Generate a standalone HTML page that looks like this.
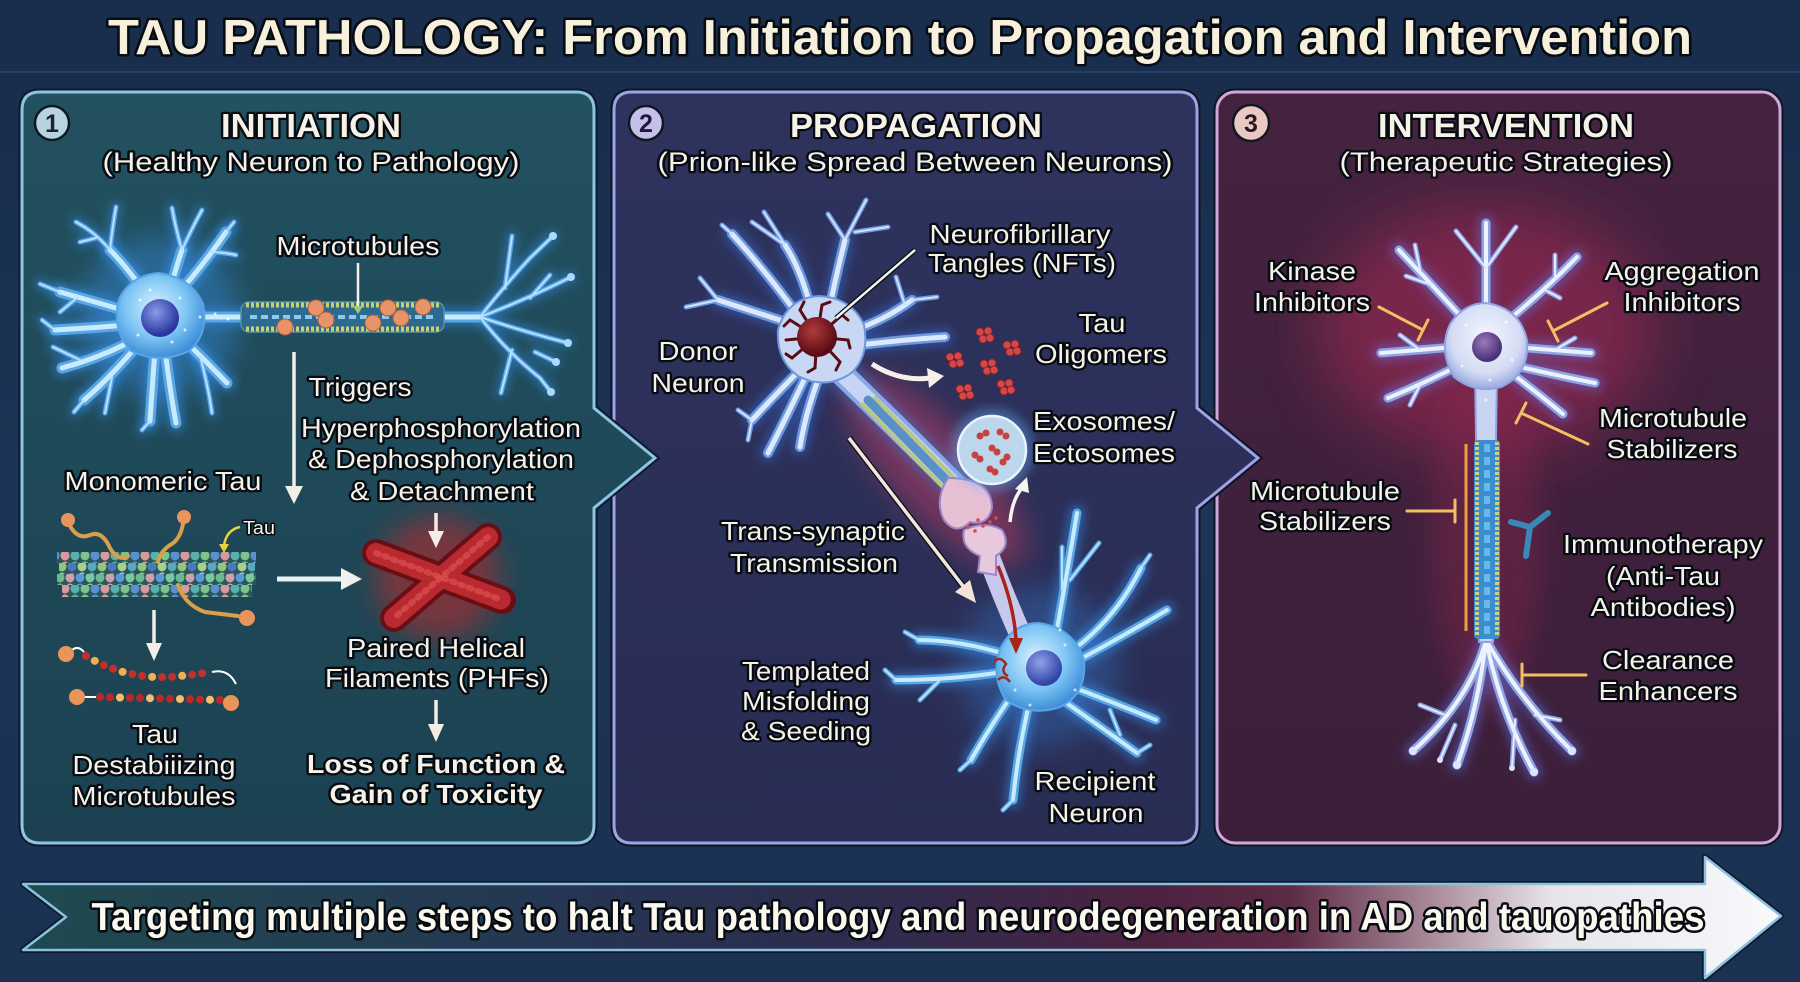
<!DOCTYPE html>
<html><head><meta charset="utf-8"><style>
html,body{margin:0;padding:0;background:#1b3354;overflow:hidden}
svg{display:block}
.L{font-family:"Liberation Sans",Arial,sans-serif;font-size:26px;fill:#f6f2e8;stroke:#070b12;stroke-width:4.5px;paint-order:stroke;stroke-linejoin:round;text-anchor:middle}
.B{font-weight:bold}
</style></head><body>
<svg width="1800" height="982" viewBox="0 0 1800 982" xmlns="http://www.w3.org/2000/svg">
<defs>
<linearGradient id="bg" x1="0" y1="0" x2="0" y2="1"><stop offset="0" stop-color="#182c4a"/><stop offset=".5" stop-color="#1c3456"/><stop offset="1" stop-color="#1a3152"/></linearGradient>
<linearGradient id="p1" x1="0" y1="0" x2="0" y2="1"><stop offset="0" stop-color="#22515f"/><stop offset="1" stop-color="#1c4252"/></linearGradient>
<linearGradient id="p2" x1="0" y1="0" x2="0" y2="1"><stop offset="0" stop-color="#2e335e"/><stop offset="1" stop-color="#292d54"/></linearGradient>
<linearGradient id="p3" x1="0" y1="0" x2="0" y2="1"><stop offset="0" stop-color="#45233f"/><stop offset="1" stop-color="#3b1f3a"/></linearGradient>
<linearGradient id="ban" x1="0" y1="0" x2="1" y2="0">
<stop offset="0" stop-color="#1f4a50"/><stop offset=".33" stop-color="#263452"/><stop offset=".5" stop-color="#302a4c"/><stop offset=".64" stop-color="#4c2240"/><stop offset=".72" stop-color="#5c2a44"/><stop offset=".8" stop-color="#a88898"/><stop offset=".87" stop-color="#e8e4ea"/><stop offset="1" stop-color="#f8fafc"/></linearGradient>
<radialGradient id="s1" cx=".45" cy=".4" r=".6"><stop offset="0" stop-color="#d8f2ff"/><stop offset=".6" stop-color="#7cc4f4"/><stop offset="1" stop-color="#3f8ed8"/></radialGradient>
<radialGradient id="s4" cx=".5" cy=".4" r=".6"><stop offset="0" stop-color="#f4f6ff"/><stop offset=".7" stop-color="#d4dcf4"/><stop offset="1" stop-color="#9aaae0"/></radialGradient>
<radialGradient id="nuc" cx=".4" cy=".35" r=".6"><stop offset="0" stop-color="#8a9ae8"/><stop offset="1" stop-color="#2a36a0"/></radialGradient>
<radialGradient id="nuc4" cx=".4" cy=".35" r=".6"><stop offset="0" stop-color="#9a7ab8"/><stop offset="1" stop-color="#4a3278"/></radialGradient>
<radialGradient id="nft" cx=".4" cy=".35" r=".6"><stop offset="0" stop-color="#b03a3a"/><stop offset="1" stop-color="#5a0c14"/></radialGradient>
<filter id="b6" x="-50%" y="-50%" width="200%" height="200%"><feGaussianBlur stdDeviation="5"/></filter>
<filter id="b15" x="-50%" y="-50%" width="200%" height="200%"><feGaussianBlur stdDeviation="14"/></filter>
<filter id="b30" x="-50%" y="-50%" width="200%" height="200%"><feGaussianBlur stdDeviation="30"/></filter>
<pattern id="mA" width="40" height="11" patternUnits="userSpaceOnUse"><rect width="40" height="11" fill="#2c5658"/><ellipse cx="5" cy="5.5" rx="4.5" ry="5" fill="#7cc48a"/><ellipse cx="15" cy="5.5" rx="4.5" ry="5" fill="#5a8fd0"/><ellipse cx="25" cy="5.5" rx="4.5" ry="5" fill="#d89aa0"/><ellipse cx="35" cy="5.5" rx="4.5" ry="5" fill="#58b0a8"/></pattern>
<pattern id="mB" width="40" height="11" patternUnits="userSpaceOnUse" patternTransform="translate(7,0)"><rect width="40" height="11" fill="#2c5658"/><ellipse cx="5" cy="5.5" rx="4.5" ry="5" fill="#58a8c0"/><ellipse cx="15" cy="5.5" rx="4.5" ry="5" fill="#8cc880"/><ellipse cx="25" cy="5.5" rx="4.5" ry="5" fill="#4a78c0"/><ellipse cx="35" cy="5.5" rx="4.5" ry="5" fill="#a8d090"/></pattern>
<pattern id="mC" width="40" height="11" patternUnits="userSpaceOnUse" patternTransform="translate(15,0)"><rect width="40" height="11" fill="#2c5658"/><ellipse cx="5" cy="5.5" rx="4.5" ry="5" fill="#6ab890"/><ellipse cx="15" cy="5.5" rx="4.5" ry="5" fill="#c8a0b0"/><ellipse cx="25" cy="5.5" rx="4.5" ry="5" fill="#5a98d8"/><ellipse cx="35" cy="5.5" rx="4.5" ry="5" fill="#78c8a0"/></pattern>

<g id="n1t"><path d="M150,300 Q128,268 110,250"/><path d="M168,296 Q176,268 182,250"/><path d="M172,300 Q200,270 226,232"/><path d="M130,312 Q95,302 60,292"/><path d="M128,325 Q92,328 55,330"/><path d="M138,338 Q100,358 62,368"/><path d="M140,342 Q110,378 84,400"/><path d="M155,350 Q152,390 150,421"/><path d="M165,350 Q170,390 176,423"/><path d="M182,338 Q205,360 227,383"/><path d="M185,317 L250,317"/><path d="M440,317 L480,317"/></g>
<g id="n1b"><path d="M110,250 Q95,232 76,222"/><path d="M110,250 Q112,230 116,207"/><path d="M96,238 L80,242"/><path d="M182,250 Q176,230 172,208"/><path d="M182,250 Q192,228 202,210"/><path d="M210,252 Q222,252 236,255"/><path d="M226,232 L234,222"/><path d="M60,292 L40,284"/><path d="M78,297 L60,312"/><path d="M55,330 L42,320"/><path d="M80,360 L53,347"/><path d="M112,377 L105,413"/><path d="M84,400 L74,412"/><path d="M200,356 Q208,385 212,413"/><path d="M150,421 L142,430"/><path d="M480,317 Q505,285 530,258 L553,236"/><path d="M505,288 L512,236"/><path d="M480,317 Q525,300 571,277"/><path d="M530,298 L550,275"/><path d="M480,317 Q525,332 568,343"/><path d="M480,317 Q505,350 540,378 L551,392"/><path d="M512,350 L501,393"/><path d="M535,352 L556,362"/></g>

<g id="n2t"><path d="M810,305 Q800,268 785,245"/><path d="M830,305 Q838,268 845,240"/><path d="M795,325 Q755,312 718,300"/><path d="M800,318 Q765,270 732,234"/><path d="M855,330 Q888,318 912,300"/><path d="M860,345 Q900,340 945,337"/><path d="M800,370 Q775,395 752,420"/><path d="M805,378 Q785,420 768,453"/><path d="M818,380 Q805,415 800,447"/></g>
<g id="n2b"><path d="M785,245 L764,212"/><path d="M785,245 L752,222"/><path d="M845,240 L828,214"/><path d="M845,240 L866,200"/><path d="M855,232 L888,227"/><path d="M718,300 L686,307"/><path d="M718,300 L700,278"/><path d="M912,300 L937,297"/><path d="M905,305 L896,277"/><path d="M752,420 L738,410"/><path d="M752,420 L748,440"/><path d="M732,234 L722,225"/></g>

<g id="n3t"><path d="M1055,640 Q1065,585 1077,513"/><path d="M1070,652 Q1115,620 1141,568"/><path d="M1075,662 Q1125,635 1167,610"/><path d="M1075,688 Q1120,705 1156,720"/><path d="M1065,702 Q1105,730 1137,753"/><path d="M1030,700 Q1018,750 1013,800"/><path d="M1012,695 Q988,730 971,760"/><path d="M1003,672 Q950,680 896,680"/><path d="M1008,655 Q960,640 919,640"/></g>
<g id="n3b"><path d="M1070,580 L1099,543"/><path d="M1062,590 L1062,547"/><path d="M1141,568 L1150,555"/><path d="M1137,753 L1150,745"/><path d="M1013,800 L1003,810"/><path d="M971,760 L960,770"/><path d="M896,680 L885,670"/><path d="M940,680 L920,700"/><path d="M919,640 L905,632"/><path d="M1110,710 L1120,735"/></g>

<g id="n4t"><path d="M1486,312 L1486,223"/><path d="M1466,322 Q1432,285 1399,250"/><path d="M1506,322 Q1545,290 1577,257"/><path d="M1455,347 Q1420,350 1381,353"/><path d="M1460,365 Q1420,385 1388,398"/><path d="M1515,347 Q1555,350 1591,353"/><path d="M1512,365 Q1555,375 1595,383"/><path d="M1510,372 Q1540,395 1563,414"/><path d="M1486,640 Q1470,700 1413,751"/><path d="M1486,640 Q1478,710 1457,765"/><path d="M1486,640 Q1500,710 1534,772"/><path d="M1486,640 Q1520,700 1572,751"/></g>
<g id="n4b"><path d="M1486,268 L1456,231"/><path d="M1486,268 L1516,227"/><path d="M1432,285 L1406,276"/><path d="M1420,270 L1415,245"/><path d="M1545,290 L1560,298"/><path d="M1555,280 L1555,255"/><path d="M1420,350 L1400,335"/><path d="M1555,350 L1575,338"/><path d="M1420,385 L1410,405"/><path d="M1445,715 L1420,705"/><path d="M1455,725 L1440,760"/><path d="M1515,720 L1512,768"/><path d="M1535,715 L1560,720"/></g>
</defs>

<!-- background -->
<rect width="1800" height="982" fill="url(#bg)"/>
<rect width="1800" height="72" fill="#192d4c"/>
<line x1="0" y1="72" x2="1800" y2="72" stroke="#24406a" stroke-width="2"/>

<!-- title -->
<text class="L B" x="900" y="54" style="font-size:49px;fill:#f7f0dc;stroke-width:5px" textLength="1584" lengthAdjust="spacingAndGlyphs">TAU PATHOLOGY: From Initiation to Propagation and Intervention</text>

<!-- panel 3 -->
<rect x="1217" y="92" width="563" height="751" rx="18" fill="url(#p3)" stroke="#0e1426" stroke-width="7"/>
<rect x="1217" y="92" width="563" height="751" rx="18" fill="url(#p3)" stroke="#cfa8d8" stroke-width="3"/>
<!-- panel 2 -->
<path d="M632,92 H1179 Q1197,92 1197,110 V408 L1258,458 L1197,508 V825 Q1197,843 1179,843 H632 Q614,843 614,825 V110 Q614,92 632,92 Z" fill="url(#p2)" stroke="#0e1426" stroke-width="7"/>
<path d="M632,92 H1179 Q1197,92 1197,110 V408 L1258,458 L1197,508 V825 Q1197,843 1179,843 H632 Q614,843 614,825 V110 Q614,92 632,92 Z" fill="url(#p2)" stroke="#9ea2e6" stroke-width="3"/>
<!-- panel 1 -->
<path d="M40,92 H576 Q594,92 594,110 V408 L655,458 L594,508 V825 Q594,843 576,843 H40 Q22,843 22,825 V110 Q22,92 40,92 Z" fill="url(#p1)" stroke="#0e1a2a" stroke-width="7"/>
<path d="M40,92 H576 Q594,92 594,110 V408 L655,458 L594,508 V825 Q594,843 576,843 H40 Q22,843 22,825 V110 Q22,92 40,92 Z" fill="url(#p1)" stroke="#8ec4e4" stroke-width="3"/>

<!-- number circles -->
<circle cx="52" cy="123" r="17" fill="#b8d4e0" stroke="#101820" stroke-width="2.5"/>
<text x="52" y="132" text-anchor="middle" style="font-family:'Liberation Sans',sans-serif;font-weight:bold;font-size:25px;fill:#1a2530">1</text>
<circle cx="646" cy="123" r="17" fill="#c4c0ea" stroke="#101820" stroke-width="2.5"/>
<text x="646" y="132" text-anchor="middle" style="font-family:'Liberation Sans',sans-serif;font-weight:bold;font-size:25px;fill:#1e1a38">2</text>
<circle cx="1251" cy="123" r="18" fill="#ecc8c4" stroke="#101820" stroke-width="2.5"/>
<text x="1251" y="132" text-anchor="middle" style="font-family:'Liberation Sans',sans-serif;font-weight:bold;font-size:25px;fill:#2a1a20">3</text>

<!-- headers -->
<text class="L B" x="311" y="137" style="font-size:33px" textLength="180" lengthAdjust="spacingAndGlyphs">INITIATION</text>
<text class="L" x="311" y="171" style="font-size:27px" textLength="417" lengthAdjust="spacingAndGlyphs">(Healthy Neuron to Pathology)</text>
<text class="L B" x="916" y="137" style="font-size:33px" textLength="252" lengthAdjust="spacingAndGlyphs">PROPAGATION</text>
<text class="L" x="915" y="171" style="font-size:27px" textLength="515" lengthAdjust="spacingAndGlyphs">(Prion-like Spread Between Neurons)</text>
<text class="L B" x="1506" y="137" style="font-size:33px" textLength="256" lengthAdjust="spacingAndGlyphs">INTERVENTION</text>
<text class="L" x="1506" y="171" style="font-size:27px" textLength="333" lengthAdjust="spacingAndGlyphs">(Therapeutic Strategies)</text>

<!-- ===== PANEL 1 ===== -->
<circle cx="159" cy="317" r="80" fill="#3a9aff" opacity=".35" filter="url(#b15)"/>
<g fill="none" stroke-linecap="round" stroke-linejoin="round">
<use href="#n1t" stroke="#3a98ff" stroke-width="18" opacity=".45" filter="url(#b6)"/>
<use href="#n1b" stroke="#3a98ff" stroke-width="10" opacity=".45" filter="url(#b6)"/>
<use href="#n1t" stroke="#5aa6e4" stroke-width="11"/>
<use href="#n1b" stroke="#5aa6e4" stroke-width="5"/>
<use href="#n1t" stroke="#c8ecff" stroke-width="5"/>
<use href="#n1b" stroke="#b8e2ff" stroke-width="2"/>
</g>
<g fill="#a8dcff"><circle cx="551" cy="392" r="4"/><circle cx="556" cy="362" r="4"/><circle cx="568" cy="343" r="4"/><circle cx="571" cy="277" r="4"/><circle cx="553" cy="236" r="4"/></g>
<path d="M159,273 Q192,278 203,304 Q209,334 189,351 Q160,365 131,351 Q111,330 119,299 Q131,275 159,273Z" fill="url(#s1)" stroke="#5aa6e4" stroke-width="2"/>
<circle cx="160" cy="318" r="19" fill="url(#nuc)"/>
<g fill="#ffffff" opacity=".75"><circle cx="140" cy="300" r="1.5"/><circle cx="180" cy="298" r="1.5"/><circle cx="185" cy="330" r="1.5"/><circle cx="138" cy="335" r="1.5"/><circle cx="172" cy="342" r="1.5"/><circle cx="150" cy="290" r="1.5"/><circle cx="200" cy="317" r="1.5"/><circle cx="215" cy="314" r="1.5"/><circle cx="228" cy="319" r="1.5"/></g>
<!-- microtubule tube -->
<rect x="241" y="302" width="203" height="30" rx="8" fill="#2c6a90" stroke="#5a90a8" stroke-width="1.5"/>
<line x1="246" y1="305" x2="440" y2="305" stroke="#c8d070" stroke-width="5" stroke-dasharray="3 2"/>
<line x1="246" y1="329" x2="440" y2="329" stroke="#c8d070" stroke-width="5" stroke-dasharray="3 2"/>
<line x1="250" y1="317" x2="436" y2="317" stroke="#8cc8f0" stroke-width="4" stroke-dasharray="7 4"/>
<g fill="#e8946a" stroke="#b0603c" stroke-width="1"><circle cx="316" cy="308" r="8"/><circle cx="326" cy="320" r="8"/><circle cx="285" cy="327" r="8"/><circle cx="373" cy="323" r="8"/><circle cx="388" cy="308" r="8"/><circle cx="401" cy="318" r="8"/><circle cx="423" cy="307" r="8"/></g>
<line x1="358" y1="263" x2="358" y2="308" stroke="#f2f2ea" stroke-width="2.5"/>
<polygon points="353,306 363,306 358,314" fill="#9ad070"/>
<text class="L" x="358" y="255" textLength="163" lengthAdjust="spacingAndGlyphs">Microtubules</text>

<!-- triggers arrow -->
<line x1="294" y1="352" x2="294" y2="488" stroke="#f2eee4" stroke-width="3.5"/>
<polygon points="285,486 303,486 294,504" fill="#f2eee4"/>
<text class="L" x="360" y="396" textLength="103" lengthAdjust="spacingAndGlyphs">Triggers</text>
<text class="L" x="441" y="437" textLength="280" lengthAdjust="spacingAndGlyphs">Hyperphosphorylation</text>
<text class="L" x="441" y="468" textLength="266" lengthAdjust="spacingAndGlyphs">&amp; Dephosphorylation</text>
<text class="L" x="442" y="500" textLength="184" lengthAdjust="spacingAndGlyphs">&amp; Detachment</text>
<text class="L" x="163" y="490" textLength="197" lengthAdjust="spacingAndGlyphs">Monomeric Tau</text>

<!-- colored microtubule -->
<rect x="57" y="552" width="199" height="11" fill="url(#mA)"/>
<rect x="59" y="563" width="196" height="11" fill="url(#mB)"/>
<rect x="57" y="574" width="199" height="11" fill="url(#mC)"/>
<rect x="62" y="585" width="190" height="12" fill="url(#mA)"/>
<g fill="none" stroke="#d8a048" stroke-width="4" stroke-linecap="round">
<path d="M70,526 Q78,540 90,535 Q102,530 110,548 Q118,562 128,556"/>
<path d="M183,524 Q180,540 170,545 Q160,552 158,562"/>
<path d="M178,585 Q185,605 205,612 L238,616"/>
</g>
<g fill="#e8945a"><circle cx="68" cy="520" r="7"/><circle cx="184" cy="517" r="7"/><circle cx="247" cy="618" r="8"/></g>
<path d="M240,527 Q226,530 224,546" fill="none" stroke="#e8d040" stroke-width="2.5"/>
<polygon points="219,544 229,544 224,553" fill="#e8d040"/>
<text class="L" x="259" y="534" style="font-size:18px;stroke-width:3px" textLength="32" lengthAdjust="spacingAndGlyphs">Tau</text>

<!-- horizontal arrow -->
<line x1="277" y1="579" x2="344" y2="579" stroke="#e8f0f4" stroke-width="5"/>
<polygon points="341,568 341,590 362,579" fill="#f2f2ee"/>

<!-- PHF -->
<circle cx="438" cy="578" r="62" fill="#d02828" opacity=".5" filter="url(#b15)"/>
<g stroke-linecap="round" fill="none">
<path d="M376,553 L502,600" stroke="#6a0e16" stroke-width="28"/>
<path d="M488,537 L394,618" stroke="#6a0e16" stroke-width="28"/>
<path d="M376,553 L502,600" stroke="#b82a30" stroke-width="20" stroke-dasharray="5 3"/>
<path d="M488,537 L394,618" stroke="#b82a30" stroke-width="20" stroke-dasharray="5 3"/>
<path d="M376,553 L502,600" stroke="#e05050" stroke-width="6" stroke-dasharray="3 6" opacity=".7"/>
<path d="M488,537 L394,618" stroke="#e05050" stroke-width="6" stroke-dasharray="3 6" opacity=".7"/>
</g>
<line x1="436" y1="513" x2="436" y2="533" stroke="#f2eee4" stroke-width="3.5"/>
<polygon points="428,531 444,531 436,548" fill="#f2eee4"/>
<text class="L" x="436" y="657" textLength="178" lengthAdjust="spacingAndGlyphs">Paired Helical</text>
<text class="L" x="437" y="687" textLength="224" lengthAdjust="spacingAndGlyphs">Filaments (PHFs)</text>
<line x1="436" y1="700" x2="436" y2="726" stroke="#f2eee4" stroke-width="3.5"/>
<polygon points="428,724 444,724 436,742" fill="#f2eee4"/>
<text class="L B" x="436" y="773" textLength="258" lengthAdjust="spacingAndGlyphs">Loss of Function &amp;</text>
<text class="L B" x="436" y="803" textLength="213" lengthAdjust="spacingAndGlyphs">Gain of Toxicity</text>

<!-- destabilizing -->
<line x1="154" y1="610" x2="154" y2="645" stroke="#f2eee4" stroke-width="3.5"/>
<polygon points="146,643 162,643 154,661" fill="#f2eee4"/>
<path d="M72,650 Q78,645 84,652" fill="none" stroke="#fff" stroke-width="2"/>
<path d="M212,672 Q228,668 236,684" fill="none" stroke="#fff" stroke-width="2"/>
<line x1="85" y1="697" x2="96" y2="697" stroke="#fff" stroke-width="2"/>
<g fill="none" stroke-linecap="round" stroke-width="8">
<path d="M86,656 Q130,682 180,676 Q200,674 210,672" stroke="#c0302c" stroke-dasharray="0 10"/>
<path d="M86,656 Q130,682 180,676 Q200,674 210,672" stroke="#f0b050" stroke-dasharray="0 30" stroke-dashoffset="-10"/>
<path d="M100,697 L222,700" stroke="#b82a2a" stroke-dasharray="0 10"/>
<path d="M100,697 L222,700" stroke="#f0c070" stroke-dasharray="0 30" stroke-dashoffset="-20"/>
</g>
<g fill="#e8945a"><circle cx="66" cy="654" r="8"/><circle cx="77" cy="697" r="8"/><circle cx="231" cy="703" r="8"/></g>
<text class="L" x="155" y="743" textLength="46" lengthAdjust="spacingAndGlyphs">Tau</text>
<text class="L" x="154" y="774" textLength="163" lengthAdjust="spacingAndGlyphs">Destabiiizing</text>
<text class="L" x="154" y="805" textLength="163" lengthAdjust="spacingAndGlyphs">Microtubules</text>

<!-- ===== PANEL 2 ===== -->
<ellipse cx="935" cy="470" rx="125" ry="45" transform="rotate(47 935 470)" fill="#c03a60" opacity=".5" filter="url(#b15)"/>
<circle cx="1039" cy="667" r="80" fill="#3a9aff" opacity=".25" filter="url(#b15)"/>
<!-- donor axon -->
<g stroke-linecap="round" fill="none">
<path d="M840,372 Q900,430 972,502" stroke="#3a80e0" stroke-width="34" opacity=".4" filter="url(#b6)"/>
<path d="M840,372 Q900,430 972,502" stroke="#8aa8e8" stroke-width="24"/>
<path d="M840,372 Q900,430 972,502" stroke="#c8d4f4" stroke-width="16"/>
<path d="M868,400 L952,486" stroke="#5a90c8" stroke-width="9"/>
<path d="M875,398 L958,482" stroke="#b8c880" stroke-width="4" stroke-dasharray="3 2"/>
<path d="M862,404 L946,490" stroke="#b8c880" stroke-width="4" stroke-dasharray="3 2"/>
</g>
<!-- synapse -->
<path d="M948,478 Q992,478 992,508 Q988,526 970,522 Q956,536 944,520 Q934,500 948,478Z" fill="#e8c0d4" stroke="#9a88c8" stroke-width="2"/>
<path d="M990,560 Q1005,600 1025,645" stroke="#c8c8ec" stroke-width="22" fill="none" stroke-linecap="round"/>
<path d="M964,530 Q985,520 1002,530 Q1012,546 996,556 L996,575 L978,572 L980,556 Q960,548 964,530Z" fill="#e8c8dc" stroke="#9a88c8" stroke-width="2"/>
<g fill="#e04848"><circle cx="968" cy="527" r="1.8"/><circle cx="975" cy="531" r="1.8"/><circle cx="983" cy="526" r="1.8"/><circle cx="990" cy="522" r="1.8"/><circle cx="978" cy="520" r="1.8"/><circle cx="996" cy="518" r="1.8"/></g>
<!-- donor neuron -->
<g fill="none" stroke-linecap="round" stroke-linejoin="round">
<use href="#n2t" stroke="#3a80ff" stroke-width="16" opacity=".4" filter="url(#b6)"/>
<use href="#n2t" stroke="#7098dc" stroke-width="10"/>
<use href="#n2b" stroke="#7098dc" stroke-width="5"/>
<use href="#n2t" stroke="#dceaff" stroke-width="5"/>
<use href="#n2b" stroke="#d0e2ff" stroke-width="2"/>
<use href="#n3t" stroke="#3a98ff" stroke-width="16" opacity=".45" filter="url(#b6)"/>
<use href="#n3t" stroke="#5aa6e4" stroke-width="9"/>
<use href="#n3b" stroke="#5aa6e4" stroke-width="5"/>
<use href="#n3t" stroke="#c8ecff" stroke-width="4"/>
<use href="#n3b" stroke="#b8e2ff" stroke-width="2"/>
</g>
<path d="M819,296 Q852,298 864,325 Q870,357 850,374 Q825,390 798,376 Q776,360 778,330 Q787,298 819,296Z" fill="#c8d8f4" stroke="#7098dc" stroke-width="2"/>
<g stroke="#5a0c14" stroke-width="3" fill="none" stroke-linecap="round">
<path d="M817,337 L790,320 L784,326"/><path d="M817,337 L800,310 L804,302"/><path d="M817,337 L822,305 L830,302"/><path d="M817,337 L842,315 L848,320"/><path d="M817,337 L848,340 L850,348"/><path d="M817,337 L840,362 L836,370"/><path d="M817,337 L815,368 L808,372"/><path d="M817,337 L792,358 L786,354"/><path d="M817,337 L786,340"/>
</g>
<circle cx="817" cy="337" r="20" fill="url(#nft)"/>
<line x1="915" y1="250" x2="836" y2="318" stroke="#080c14" stroke-width="5"/>
<line x1="915" y1="250" x2="836" y2="318" stroke="#f4f4f0" stroke-width="2.5"/>
<!-- recipient soma -->
<path d="M1039,623 Q1074,628 1084,660 Q1087,694 1060,707 Q1030,717 1006,700 Q990,676 1001,647 Q1014,623 1039,623Z" fill="url(#s1)" stroke="#5aa6e4" stroke-width="2"/>
<circle cx="1044" cy="668" r="18" fill="url(#nuc)" opacity=".9"/>
<g fill="#ffffff" opacity=".7"><circle cx="1020" cy="640" r="1.5"/><circle cx="1065" cy="645" r="1.5"/><circle cx="1075" cy="690" r="1.5"/><circle cx="1015" cy="690" r="1.5"/><circle cx="1030" cy="705" r="1.5"/><circle cx="1060" cy="630" r="1.5"/></g>
<g stroke="#a02820" stroke-width="2.5" fill="none"><path d="M994,662 Q1000,655 1006,664 Q1000,672 1008,676"/><path d="M998,680 Q1004,674 1010,682"/></g>
<!-- oligomers -->
<g fill="#d24848" stroke="#8a1c24" stroke-width=".8">
<circle cx="980" cy="332" r="4"/><circle cx="988" cy="331" r="4"/><circle cx="983" cy="339" r="4"/><circle cx="990" cy="338" r="4"/>
<circle cx="1007" cy="345" r="4"/><circle cx="1015" cy="344" r="4"/><circle cx="1010" cy="352" r="4"/><circle cx="1017" cy="351" r="4"/>
<circle cx="950" cy="357" r="4"/><circle cx="958" cy="356" r="4"/><circle cx="953" cy="364" r="4"/><circle cx="960" cy="363" r="4"/>
<circle cx="984" cy="364" r="4"/><circle cx="992" cy="363" r="4"/><circle cx="987" cy="371" r="4"/><circle cx="994" cy="370" r="4"/>
<circle cx="960" cy="389" r="4"/><circle cx="968" cy="388" r="4"/><circle cx="963" cy="396" r="4"/><circle cx="970" cy="395" r="4"/>
<circle cx="1001" cy="384" r="4"/><circle cx="1009" cy="383" r="4"/><circle cx="1004" cy="391" r="4"/><circle cx="1011" cy="390" r="4"/>
</g>
<!-- exosome -->
<circle cx="992" cy="450" r="42" fill="#6ab0ff" opacity=".4" filter="url(#b6)"/>
<circle cx="992" cy="450" r="34" fill="#bcd6ec" stroke="#e8f4ff" stroke-width="2.5"/>
<g fill="#c84040"><circle cx="980" cy="436" r="3.5"/><circle cx="986" cy="433" r="3.5"/><circle cx="1000" cy="432" r="3.5"/><circle cx="1006" cy="436" r="3.5"/><circle cx="992" cy="448" r="3.5"/><circle cx="997" cy="452" r="3.5"/><circle cx="975" cy="455" r="3.5"/><circle cx="980" cy="459" r="3.5"/><circle cx="1007" cy="457" r="3.5"/><circle cx="1003" cy="462" r="3.5"/><circle cx="990" cy="469" r="3.5"/><circle cx="995" cy="472" r="3.5"/></g>
<!-- arrows panel 2 -->
<path d="M872,364 Q900,382 930,378" fill="none" stroke="#f4f0ea" stroke-width="5"/>
<polygon points="927,368 944,376 929,388" fill="#f4f0ea"/>
<line x1="849" y1="438" x2="966" y2="590" stroke="#080c14" stroke-width="6"/>
<line x1="849" y1="438" x2="966" y2="590" stroke="#f2e6dc" stroke-width="3.5"/>
<polygon points="976,603 970,580 955,592" fill="#f4e4d8"/>
<path d="M1010,522 Q1012,500 1022,488" fill="none" stroke="#f4f4f0" stroke-width="3.5"/>
<polygon points="1027,477 1015,489 1029,493" fill="#f4f4f0"/>
<path d="M998,566 Q1014,605 1016,640" fill="none" stroke="#a82418" stroke-width="3.5"/>
<polygon points="1009,638 1023,638 1016,654" fill="#a82418"/>

<text class="L" x="1020" y="243" textLength="181" lengthAdjust="spacingAndGlyphs">Neurofibrillary</text>
<text class="L" x="1022" y="272" textLength="188" lengthAdjust="spacingAndGlyphs">Tangles (NFTs)</text>
<text class="L" x="698" y="360" textLength="79" lengthAdjust="spacingAndGlyphs">Donor</text>
<text class="L" x="698" y="392" textLength="93" lengthAdjust="spacingAndGlyphs">Neuron</text>
<text class="L" x="1102" y="332" textLength="47" lengthAdjust="spacingAndGlyphs">Tau</text>
<text class="L" x="1101" y="363" textLength="132" lengthAdjust="spacingAndGlyphs">Oligomers</text>
<text class="L" x="1104" y="430" textLength="142" lengthAdjust="spacingAndGlyphs">Exosomes/</text>
<text class="L" x="1104" y="462" textLength="142" lengthAdjust="spacingAndGlyphs">Ectosomes</text>
<text class="L" x="813" y="540" textLength="184" lengthAdjust="spacingAndGlyphs">Trans-synaptic</text>
<text class="L" x="814" y="572" textLength="168" lengthAdjust="spacingAndGlyphs">Transmission</text>
<text class="L" x="806" y="680" textLength="128" lengthAdjust="spacingAndGlyphs">Templated</text>
<text class="L" x="806" y="710" textLength="128" lengthAdjust="spacingAndGlyphs">Misfolding</text>
<text class="L" x="806" y="740" textLength="130" lengthAdjust="spacingAndGlyphs">&amp; Seeding</text>
<text class="L" x="1095" y="790" textLength="121" lengthAdjust="spacingAndGlyphs">Recipient</text>
<text class="L" x="1096" y="822" textLength="95" lengthAdjust="spacingAndGlyphs">Neuron</text>

<!-- ===== PANEL 3 ===== -->
<ellipse cx="1486" cy="330" rx="170" ry="125" fill="#b02a58" opacity=".5" filter="url(#b30)"/>
<ellipse cx="1486" cy="540" rx="55" ry="170" fill="#8a2850" opacity=".4" filter="url(#b15)"/>
<g fill="none" stroke-linecap="round" stroke-linejoin="round">
<use href="#n4t" stroke="#6a80ff" stroke-width="16" opacity=".4" filter="url(#b6)"/>
<use href="#n4t" stroke="#8ea4e4" stroke-width="9"/>
<use href="#n4b" stroke="#8ea4e4" stroke-width="5"/>
<use href="#n4t" stroke="#eef2ff" stroke-width="4"/>
<use href="#n4b" stroke="#e4eaff" stroke-width="2"/>
</g>
<g fill="#dce4ff"><circle cx="1413" cy="751" r="4"/><circle cx="1457" cy="765" r="4"/><circle cx="1534" cy="772" r="4"/><circle cx="1572" cy="751" r="4"/><circle cx="1440" cy="760" r="3"/><circle cx="1512" cy="768" r="3"/></g>
<path d="M1475,370 L1497,370 L1493,642 L1479,642Z" fill="#c8d4f2" stroke="#8ea4e4" stroke-width="2"/>
<path d="M1486,303 Q1520,308 1527,340 Q1530,374 1501,387 Q1475,394 1454,377 Q1438,350 1450,324 Q1464,303 1486,303Z" fill="url(#s4)" stroke="#8ea4e4" stroke-width="2"/>
<circle cx="1487" cy="347" r="15" fill="url(#nuc4)"/>
<g fill="#ffffff" opacity=".7"><circle cx="1466" cy="325" r="1.5"/><circle cx="1506" cy="322" r="1.5"/><circle cx="1512" cy="360" r="1.5"/><circle cx="1462" cy="366" r="1.5"/><circle cx="1490" cy="380" r="1.5"/><circle cx="1486" cy="400" r="1.5"/></g>
<!-- microtubule axon -->
<rect x="1474" y="440" width="26" height="199" rx="4" fill="#3a8ed0"/>
<line x1="1487" y1="444" x2="1487" y2="636" stroke="#6ab8f0" stroke-width="6" stroke-dasharray="8 5"/>
<line x1="1477" y1="442" x2="1477" y2="637" stroke="#d8d070" stroke-width="4" stroke-dasharray="3 2"/>
<line x1="1497" y1="442" x2="1497" y2="637" stroke="#d8d070" stroke-width="4" stroke-dasharray="3 2"/>
<!-- inhibitors -->
<g stroke="#f2c060" stroke-width="3" stroke-linecap="round" fill="none">
<line x1="1379" y1="307" x2="1423" y2="330"/><line x1="1418" y1="340" x2="1428" y2="320"/>
<line x1="1607" y1="303" x2="1553" y2="331"/><line x1="1558" y1="341" x2="1548" y2="321"/>
<line x1="1588" y1="444" x2="1521" y2="413"/><line x1="1526" y1="403" x2="1516" y2="423"/>
<line x1="1407" y1="511" x2="1454" y2="511"/><line x1="1455" y1="500" x2="1455" y2="522"/>
<line x1="1586" y1="675" x2="1523" y2="675"/><line x1="1522" y1="664" x2="1522" y2="686"/>
</g>
<line x1="1466" y1="444" x2="1466" y2="631" stroke="#e8a040" stroke-width="3"/>
<!-- antibody -->
<g stroke="#3a88b8" stroke-width="6" stroke-linecap="round" fill="none">
<path d="M1511,522 L1530,527 L1526,556"/><path d="M1530,527 L1548,513"/>
</g>
<text class="L" x="1312" y="280" textLength="88" lengthAdjust="spacingAndGlyphs">Kinase</text>
<text class="L" x="1312" y="311" textLength="116" lengthAdjust="spacingAndGlyphs">Inhibitors</text>
<text class="L" x="1682" y="280" textLength="155" lengthAdjust="spacingAndGlyphs">Aggregation</text>
<text class="L" x="1682" y="311" textLength="117" lengthAdjust="spacingAndGlyphs">Inhibitors</text>
<text class="L" x="1673" y="427" textLength="148" lengthAdjust="spacingAndGlyphs">Microtubule</text>
<text class="L" x="1672" y="458" textLength="131" lengthAdjust="spacingAndGlyphs">Stabilizers</text>
<text class="L" x="1325" y="500" textLength="150" lengthAdjust="spacingAndGlyphs">Microtubule</text>
<text class="L" x="1325" y="530" textLength="132" lengthAdjust="spacingAndGlyphs">Stabilizers</text>
<text class="L" x="1663" y="553" textLength="200" lengthAdjust="spacingAndGlyphs">Immunotherapy</text>
<text class="L" x="1663" y="585" textLength="114" lengthAdjust="spacingAndGlyphs">(Anti-Tau</text>
<text class="L" x="1663" y="616" textLength="145" lengthAdjust="spacingAndGlyphs">Antibodies)</text>
<text class="L" x="1668" y="669" textLength="132" lengthAdjust="spacingAndGlyphs">Clearance</text>
<text class="L" x="1668" y="700" textLength="139" lengthAdjust="spacingAndGlyphs">Enhancers</text>

<!-- ===== BANNER ===== -->
<polygon points="23,884 1705,884 1705,857 1781,916 1705,978 1705,950 23,950 66,917" fill="#0e1a2c" stroke="#0e1a2c" stroke-width="6" stroke-linejoin="round"/>
<polygon points="23,884 1705,884 1705,857 1781,916 1705,978 1705,950 23,950 66,917" fill="url(#ban)" stroke="#8cc0e0" stroke-width="2.5" stroke-linejoin="round"/>
<text class="L B" x="898" y="930" style="font-size:39px;fill:#fbf8ee;stroke-width:5px" textLength="1613" lengthAdjust="spacingAndGlyphs">Targeting multiple steps to halt Tau pathology and neurodegeneration in AD and tauopathies</text>
</svg>
</body></html>
